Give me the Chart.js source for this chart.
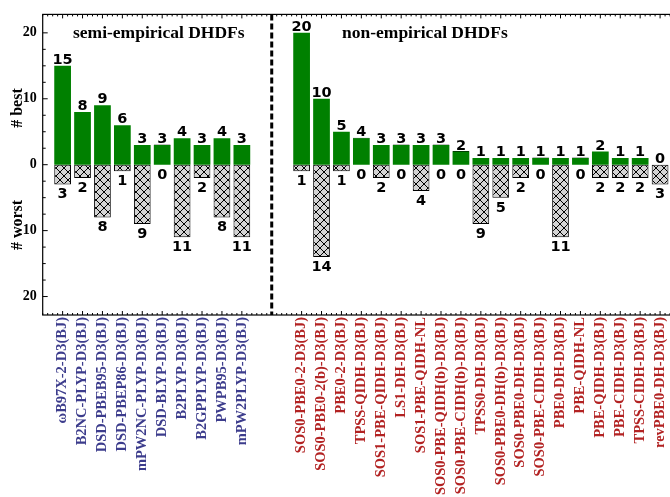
<!DOCTYPE html>
<html>
<head>
<meta charset="utf-8">
<script src="https://cdn.jsdelivr.net/npm/chart.js@4.4.1/dist/chart.umd.min.js"></script>
<style>
  html, body { margin: 0; padding: 0; background: #fff; overflow: hidden; }
  #wrap { width: 670px; height: 497px; overflow: hidden; }
</style>
</head>
<body>
<div id="wrap"><canvas id="chart" width="682" height="497"></canvas></div>
<script>
const semiNames = ['ωB97X-2-D3(BJ)', 'B2NC-PLYP-D3(BJ)', 'DSD-PBEB95-D3(BJ)', 'DSD-PBEP86-D3(BJ)',
  'mPW2NC-PLYP-D3(BJ)', 'DSD-BLYP-D3(BJ)', 'B2PLYP-D3(BJ)', 'B2GPPLYP-D3(BJ)', 'PWPB95-D3(BJ)', 'mPW2PLYP-D3(BJ)'];
const semiBest  = [15, 8, 9, 6, 3, 3, 4, 3, 4, 3];
const semiWorst = [3, 2, 8, 1, 9, 0, 11, 2, 8, 11];

const nonNames = ['SOS0-PBE0-2-D3(BJ)', 'SOS0-PBE0-2(b)-D3(BJ)', 'PBE0-2-D3(BJ)', 'TPSS-QIDH-D3(BJ)',
  'SOS1-PBE-QIDH-D3(BJ)', 'LS1-DH-D3(BJ)', 'SOS1-PBE-QIDH-NL', 'SOS0-PBE-QIDH(b)-D3(BJ)',
  'SOS0-PBE-CIDH(b)-D3(BJ)', 'TPSS0-DH-D3(BJ)', 'SOS0-PBE0-DH(b)-D3(BJ)', 'SOS0-PBE0-DH-D3(BJ)',
  'SOS0-PBE-CIDH-D3(BJ)', 'PBE0-DH-D3(BJ)', 'PBE-QIDH-NL', 'PBE-QIDH-D3(BJ)', 'PBE-CIDH-D3(BJ)',
  'TPSS-CIDH-D3(BJ)', 'revPBE0-DH-D3(BJ)'];
const nonBest  = [20, 10, 5, 4, 3, 3, 3, 3, 2, 1, 1, 1, 1, 1, 1, 2, 1, 1, 0];
const nonWorst = [1, 14, 1, 0, 2, 0, 4, 0, 0, 9, 5, 2, 0, 11, 0, 2, 2, 2, 3];

const yTicks = [-20, -10, 0, 10, 20];
const groupTitles = ['semi-empirical DHDFs', 'non-empirical DHDFs'];

// one empty slot at each end, two empty slots between the groups
const labels = ['', ...semiNames, '', '', ...nonNames, ''];
const best   = [null, ...semiBest, null, null, ...nonBest, null];
const worst  = [null, ...semiWorst.map(v => -v), null, null, ...nonWorst.map(v => -v), null];
const splitAt = semiNames.length + 1.5;

const SERIF = '"Liberation Serif", "Times New Roman", serif';

// crosshatch fill for the "# worst" bars
const tile = document.createElement('canvas');
tile.width = 8; tile.height = 8;
const tc = tile.getContext('2d');
tc.fillStyle = '#d3d3d3';
tc.fillRect(0, 0, 8, 8);
tc.strokeStyle = '#000';
tc.lineWidth = 1;
tc.beginPath();
tc.moveTo(0, 0); tc.lineTo(8, 8);
tc.moveTo(8, 0); tc.lineTo(0, 8);
tc.stroke();
const hatch = tc.createPattern(tile, 'repeat');

const decor = {
    id: 'decor',
    afterDatasetsDraw(chart) {
        const { ctx, chartArea: a, scales: { x, y } } = chart;
        ctx.save();

        // value labels
        ctx.fillStyle = '#000';
        ctx.font = 'bold 14.5px "DejaVu Sans"';
        ctx.textAlign = 'center';
        ctx.textBaseline = 'alphabetic';
        chart.getDatasetMeta(0).data.forEach((el, i) => {
            if (best[i] === null) return;
            ctx.fillText(String(best[i]), el.x, el.y - 2);
        });
        chart.getDatasetMeta(1).data.forEach((el, i) => {
            if (worst[i] === null) return;
            ctx.fillText(String(Math.abs(worst[i])), el.x, Math.max(el.y, y.getPixelForValue(0)) + 14);
        });

        // frame
        ctx.strokeStyle = '#000';
        ctx.lineWidth = 1.2;
        ctx.strokeRect(a.left, a.top, a.right - a.left, a.bottom - a.top);

        // x ticks (bottom and top, pointing inward)
        const slot = x.getPixelForValue(1) - x.getPixelForValue(0);
        ctx.lineWidth = 1;
        ctx.beginPath();
        for (let i = 0; i < labels.length - 1; i++) {
            for (let k = 0; k < 4; k++) {
                const px = x.getPixelForValue(i) + k * slot / 4;
                const len = (k === 0 && labels[i] !== '') ? 4 : 2;
                ctx.moveTo(px, a.bottom); ctx.lineTo(px, a.bottom - len);
                ctx.moveTo(px, a.top); ctx.lineTo(px, a.top + len);
            }
        }
        // y ticks (left, pointing inward)
        for (let v = -20; v <= 20; v += 2.5) {
            const py = y.getPixelForValue(v);
            const len = (v % 10 === 0) ? 5 : 3;
            ctx.moveTo(a.left, py); ctx.lineTo(a.left + len, py);
        }
        ctx.stroke();

        // group separator
        const sx = x.getPixelForValue(splitAt);
        ctx.lineWidth = 3;
        ctx.setLineDash([6, 3]);
        ctx.beginPath();
        ctx.moveTo(sx, a.top); ctx.lineTo(sx, a.bottom);
        ctx.stroke();
        ctx.setLineDash([]);

        // group titles
        ctx.font = 'bold 17.5px ' + SERIF;
        ctx.textAlign = 'left';
        ctx.fillText(groupTitles[0], 73, 38);
        ctx.fillText(groupTitles[1], 342, 38);

        // axis titles
        ctx.font = 'bold 16px ' + SERIF;
        ctx.textAlign = 'center';
        ctx.textBaseline = 'middle';
        [['# best', 108], ['# worst', 225]].forEach(([t, cy]) => {
            ctx.save();
            ctx.translate(18, cy);
            ctx.rotate(-Math.PI / 2);
            ctx.fillText(t, 0, 0);
            ctx.restore();
        });

        ctx.restore();
    }
};

new Chart(document.getElementById('chart'), {
    type: 'bar',
    data: {
        labels: labels,
        datasets: [{
            label: '# best',
            data: best,
            backgroundColor: '#008000',
            borderWidth: 0,
            categoryPercentage: 1,
            barPercentage: 0.84,
        }, {
            label: '# worst',
            data: worst,
            backgroundColor: hatch,
            borderColor: '#000',
            borderWidth: 1,
            borderSkipped: false,
            minBarLength: 1,
            categoryPercentage: 1,
            barPercentage: 0.84,
        }]
    },
    options: {
        responsive: false,
        devicePixelRatio: 1,
        animation: false,
        layout: { padding: { top: 12, left: 0, right: 2, bottom: 0 } },
        plugins: {
            legend: { display: false },
            tooltip: { enabled: false }
        },
        scales: {
            x: {
                stacked: true,
                offset: false,
                grid: { display: false, drawTicks: false },
                border: { display: false },
                ticks: {
                    autoSkip: false,
                    maxRotation: 90,
                    minRotation: 90,
                    padding: 2,
                    font: { family: SERIF, size: 14.5, weight: 'bold' },
                    color: ctx => ctx.index <= semiNames.length ? '#3c3c8c' : '#b22222'
                },
                afterFit: s => {
                    s.height = 182;
                    s.paddingLeft = 0;
                    s.paddingRight = 0;
                }
            },
            y: {
                stacked: true,
                min: -22.8,
                max: 22.8,
                grid: { display: false, drawTicks: false },
                border: { display: false },
                afterBuildTicks: s => { s.ticks = yTicks.map(v => ({ value: v })); },
                ticks: {
                    padding: 6,
                    color: '#000',
                    font: { family: SERIF, size: 14, weight: 'bold' },
                    callback: v => String(Math.abs(v))
                },
                afterFit: s => { s.width = 42.7; }
            }
        }
    },
    plugins: [decor]
});
</script>
</body>
</html>
